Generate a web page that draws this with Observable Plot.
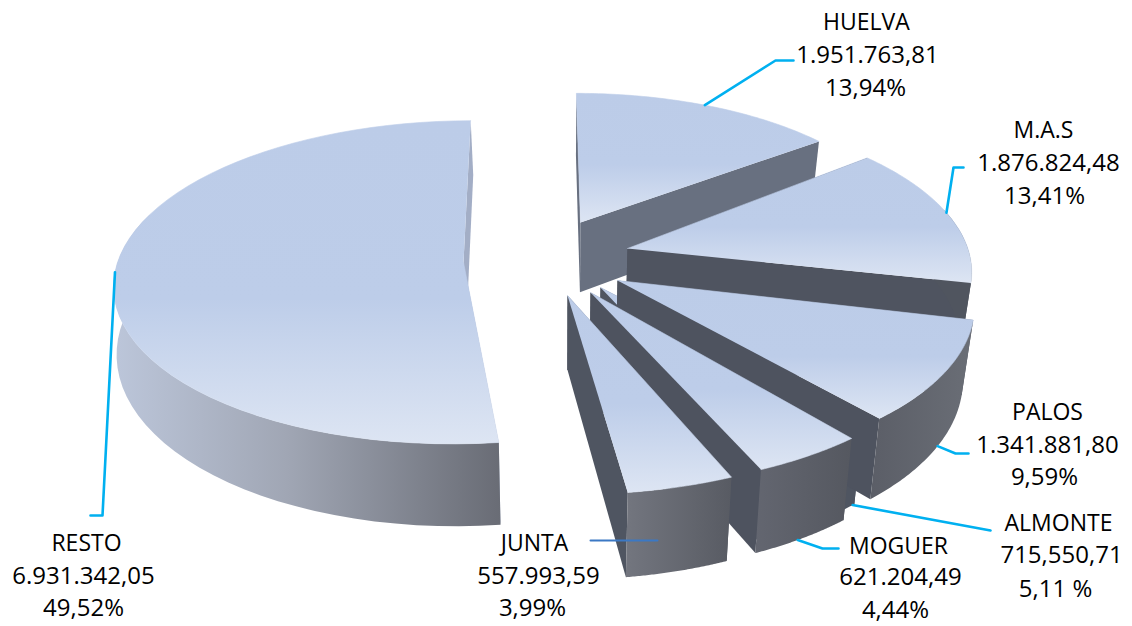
<!DOCTYPE html>
<html><head><meta charset="utf-8">
<style>html,body{margin:0;padding:0;background:#fff}svg{display:block}</style>
<script src="https://cdn.jsdelivr.net/npm/d3@7"></script>
<script src="https://cdn.jsdelivr.net/npm/@observablehq/plot@0.6"></script>
</head><body><div id="chart"></div>
<script>
// ---- data
const names   = ["HUELVA","M.A.S","PALOS","ALMONTE","MOGUER","JUNTA","RESTO"];
const amounts = [1951763.81,1876824.48,1341881.80,715550.71,621204.49,557993.59,6931342.05];
const amountLabels = ["1.951.763,81","1.876.824,48","1.341.881,80","715,550,71","621.204,49","557.993,59","6.931.342,05"];
const shareLabels  = ["13,94%","13,41%","9,59%","5,11 %","4,44%","3,99%","49,52%"];

// ---- layout of the exploded slices (apex on the page, start angle, radius, sweep correction)
const apexX  = [580,627,617,600,590,567,463];
const apexY  = [222,248,280,287,292,295,262];
const startA = [0,51,103.5,138.5,140.5,157.4,173.3];
const radius = [333,344,348,344,354,358,346];
const sweepK = [1.055,1.068,1.04,1,1,1.04,1.046];
const wallH   = [72,72,72,72,72,72,66];
const wallExp = [1,1,1,1,1,1,1.7];
const wallPaint  = ["#687080","#4f5460","#4e535f","#4f5561","#4e535f","#4f5561","#a3aec6"];
const outerPaint = ["url(#outerH)","#50555f","url(#outerP)","#4f5561","url(#outerM)","url(#outerJ)","url(#outerR)"];
const drawOrder  = ["RESTO","HUELVA","M.A.S","ALMONTE","PALOS","MOGUER","JUNTA"];

// ---- label and leader layout
const nameX=[866,1043,1047,1058,898,534,86],   nameY=[29,137,419,530,553,550,550];
const amtX =[867,1048,1047,1061,900,538,83],   amtY =[62,170,452,562,584,583,583];
const pctX =[865,1044,1044,1055,895,532,83],   pctY =[95,203,484,596,617,615,615];
const leaderFrac = [0.49,0.49,0.46,0.02,0.55,null,0.5];
const leaderBase = [0,0,1,1,1,0,0];
const leaderVia  = [[[775,60],[793,60]],[[953,167],[963,167]],[[955,453],[968,453]],[[990,530]],[[822,548],[838,548]],[[590,540],[657,540]],[[102,515],[90,515]]];

// ---- perspective of the pie plane
const VX=540, VY=262, TILT=0.46, Q=3.54e-4, LEAN_X=560, LEAN=0.028, LEAN_MAX=3;
const planeY = py => (py-VY)/(TILT+(py-VY)*Q);
const scaleAt = Y => 1/(1-Q*Y);
const total = d3.sum(amounts);
function project(i,deg,r,base){
  const Y0=planeY(apexY[i]), X0=(apexX[i]-VX)/scaleAt(Y0), a=deg*Math.PI/180;
  const X=X0+r*Math.sin(a), Y=Y0-r*Math.cos(a), s=scaleAt(Y);
  const x=VX+X*s, y=VY+TILT*Y*s;
  return base ? {x:x+Math.min(LEAN_MAX,(LEAN_X-x)*LEAN), y:y+wallH[i]*Math.pow(s,wallExp[i])} : {x,y};
}
const sweep = i => amounts[i]/total*360*sweepK[i];
const arcDegs = i => d3.range(0,61).map(k=>startA[i]+sweep(i)*k/60);
function polys(i){
  const R=radius[i], a0=startA[i], a1=a0+sweep(i), degs=arcDegs(i);
  const front=degs.filter(d=>d>75&&d<290);
  const P=(d,r,b)=>project(i,d,r,b);
  return [
    {pts:[P(a0,0,0),P(a0,R,0),P(a0,R,1),P(a0,0,1)],paint:wallPaint[i],sw:0},
    {pts:[P(a1,0,0),P(a1,R,0),P(a1,R,1),P(a1,0,1)],paint:wallPaint[i],sw:0},
    {pts:[...front.map(d=>P(d,R,0)),...front.slice().reverse().map(d=>P(d,R,1))],paint:outerPaint[i],sw:0},
    {pts:[P(a0,0,0),...degs.map(d=>P(d,R,0))],paint:"url(#top)",sw:0.6}
  ];
}
const grad=(defs,id,dir,stops)=>{
  const g=defs.append("linearGradient").attr("id",id).attr("x1",0).attr("y1",0).attr("x2",dir=="h"?1:0).attr("y2",dir=="h"?0:1);
  stops.forEach(([o,c])=>g.append("stop").attr("offset",o).attr("stop-color",c));
};
const gradients=()=>{
  const d=d3.create("svg:defs");
  grad(d,"top","v",[[0,"#bccce8"],[0.55,"#bdcde9"],[1,"#dde5f3"]]);
  grad(d,"outerR","h",[[0,"#bcc6da"],[0.45,"#a0a6b4"],[1,"#696c75"]]);
  grad(d,"outerP","h",[[0,"#5b5e67"],[1,"#6a6e76"]]);
  grad(d,"outerM","h",[[0,"#636670"],[1,"#555860"]]);
  grad(d,"outerJ","h",[[0,"#73767f"],[1,"#585b63"]]);
  grad(d,"outerH","h",[[0,"#687080"],[1,"#687080"]]);
  return d.node();
};
const marks=[gradients];
drawOrder.forEach(n=>{
  const i=names.indexOf(n);
  polys(i).filter(p=>p.pts.length>2).forEach(p=>marks.push(Plot.line(p.pts,{x:"x",y:"y",fill:p.paint,stroke:p.sw?p.paint:"none",strokeWidth:p.sw||undefined})));
});
// leaders
names.forEach((n,i)=>{
  const f=leaderFrac[i];
  const head=f==null?[]:[project(i,startA[i]+sweep(i)*f,radius[i],leaderBase[i])];
  const pts=[...head,...leaderVia[i].map(([x,y])=>({x,y}))];
  marks.push(Plot.line(pts,{x:"x",y:"y",stroke:f==null?"#3b78c4":"#00b0f0",strokeWidth:f==null?2:2.6}));
});
// labels
const font="Open Sans";
const textMark=(txt,xs,ys,size)=>Plot.text(names.map((_,i)=>i),{x:i=>xs[i],y:i=>ys[i],text:i=>txt[i],fontSize:size,fontFamily:font,fill:"#000",textAnchor:"middle",lineAnchor:"bottom"});
marks.push(textMark(names,nameX,nameY,23),textMark(amountLabels,amtX,amtY,24),textMark(shareLabels,pctX,pctY,24));

document.getElementById("chart").append(Plot.plot({
  width:1132,height:626,margin:0,
  x:{domain:[0,1132],range:[0,1132],axis:null},
  y:{domain:[0,626],range:[0,626],axis:null},
  marks
}));
</script></body></html>
